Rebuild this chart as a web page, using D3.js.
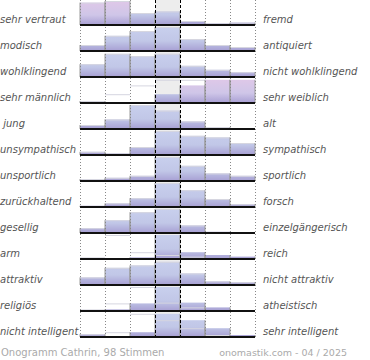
<!DOCTYPE html>
<html><head><meta charset="utf-8">
<script src="https://cdn.jsdelivr.net/npm/d3@7"></script>
<style>html,body{margin:0;padding:0;background:#fff;}svg{display:block;}</style>
</head><body>
<script>
const leftLabels = ["sehr vertraut","modisch","wohlklingend","sehr männlich"," jung","unsympathisch","unsportlich","zurückhaltend","gesellig","arm","attraktiv","religiös","nicht intelligent"];
const rightLabels = ["fremd","antiquiert","nicht wohlklingend","sehr weiblich","alt","sympathisch","sportlich","forsch","einzelgängerisch","reich","nicht attraktiv","atheistisch","sehr intelligent"];
const columns = [1,2,3,4,5,6,7];
// share of votes (%) per scale step, one array per row
const row01 = [28, 30, 15, 17, 5, 2, 3];
const row02 = [7.5, 19, 25, 30, 15, 7.5, 5];
const row03 = [16, 29, 26, 29, 14, 9, 6];
const row04 = [2.5, 0, 0, 11, 22, 29, 29];
const row05 = [5, 12, 30, 23, 9.5, 2.5, 0];
const row06 = [4, 2, 10, 30, 24, 22, 15];
const row07 = [2.5, 4, 6.5, 30, 19, 9.5, 6.5];
const row08 = [1.5, 4.5, 11, 30, 21, 10, 3.5];
const row09 = [6, 16, 26, 30, 9.5, 1.5, 0];
const row10 = [0, 0, 2, 30, 8.5, 5, 3];
const row11 = [9.5, 21.5, 24.5, 29, 14.5, 4.5, 3.5];
const row12 = [0, 2, 9.5, 30, 10.5, 4.5, 0];
const row13 = [3.5, 0, 6, 29, 21, 11, 2.5];
const rows = [row01,row02,row03,row04,row05,row06,row07,row08,row09,row10,row11,row12,row13];
const footerLeft = "Onogramm Cathrin, 98 Stimmen";
const footerRight = "onomastik.com - 04 / 2025";

const W = 370, H = 360;
const svg = d3.select("body").append("svg").attr("width", W).attr("height", H);
const defs = svg.append("defs");

const x = d3.scaleBand().domain(columns).range([80, 255]).paddingInner(0).paddingOuter(0);
const yRow = d3.scaleBand().domain(d3.range(rows.length)).range([0, 338]).paddingInner(0);
const band = 25;
const h = d3.scaleLinear().domain([0, 30]).range([0, 24]).clamp(true);

// pink tint cells (row, col)
const pinkCells = new Set(["0-0","0-1","3-4","3-5","3-6"]);

rows.forEach((vals, r) => {
  const top = yRow(r), base = top + band;
  const gb = defs.append("linearGradient").attr("id","gb"+r).attr("gradientUnits","userSpaceOnUse")
    .attr("x1",0).attr("x2",0).attr("y1",top).attr("y2",base);
  gb.append("stop").attr("offset",0).attr("stop-color","#c9d0ee");
  gb.append("stop").attr("offset",0.6).attr("stop-color","#c1c7e7");
  gb.append("stop").attr("offset",1).attr("stop-color","#a79fd3");
  const gp = defs.append("linearGradient").attr("id","gp"+r).attr("gradientUnits","userSpaceOnUse")
    .attr("x1",0).attr("x2",0).attr("y1",top).attr("y2",base);
  gp.append("stop").attr("offset",0).attr("stop-color","#e0c8e8");
  gp.append("stop").attr("offset",0.6).attr("stop-color","#cfc6e8");
  gp.append("stop").attr("offset",1).attr("stop-color","#a89fd3");
});

const g = svg.append("g");
rows.forEach((vals, r) => {
  const top = yRow(r), base = top + band;
  const rg = g.append("g");
  // middle column background
  rg.append("rect").attr("x", x(4)).attr("y", top).attr("width", x.bandwidth()).attr("height", band).attr("fill","#ededed");
  rg.selectAll("rect.bar").data(vals).join("rect").attr("class","bar")
    .attr("x",(d,i)=>x(columns[i])).attr("width",x.bandwidth())
    .attr("y",d=>base-h(d)).attr("height",d=>h(d))
    .attr("fill",(d,i)=> pinkCells.has(r+"-"+i) ? "url(#gp"+r+")" : "url(#gb"+r+")");
  // top edges
  rg.selectAll("line.top").data(vals).join("line").attr("class","top")
    .filter(d=>d>0)
    .attr("x1",(d,i)=>x(columns[i])).attr("x2",(d,i)=>x(columns[i])+x.bandwidth())
    .attr("y1",d=>base-h(d)+0.5).attr("y2",d=>base-h(d)+0.5)
    .attr("stroke","#d6d6e0").attr("stroke-width",1);
  // side edges
  vals.forEach((d,i)=>{
    if (d<=0) return;
    const x0 = x(columns[i]), x1 = x0 + x.bandwidth();
    [x0, x1].forEach(xx=>{
      rg.append("line").attr("x1",xx).attr("x2",xx).attr("y1",base-h(d)).attr("y2",base)
        .attr("stroke","#9a9a9a").attr("stroke-width",1);
    });
  });
  // labels
  rg.append("text").attr("x",0).attr("y",base-2).text(leftLabels[r])
    .attr("font-family","DejaVu Sans").attr("font-style","italic").attr("font-size",10)
    .attr("fill","#555").style("white-space","pre");
  rg.append("text").attr("x",263).attr("y",base-2).text(rightLabels[r])
    .attr("font-family","DejaVu Sans").attr("font-style","italic").attr("font-size",10)
    .attr("fill","#555");
});

// grid lines
const grid = svg.append("g");
const edges = columns.map(c=>x(c)).concat([x(columns[6])+x.bandwidth()]);
edges.forEach((xx,i)=>{
  const mid = (i===3 || i===4);
  grid.append("line").attr("x1",Math.round(xx)+0.5).attr("x2",Math.round(xx)+0.5).attr("y1",0).attr("y2",338)
    .attr("stroke", mid ? "#000" : "#888").attr("stroke-width",1)
    .attr("stroke-dasharray", mid ? "3,2" : "1,2");
});
// baselines
rows.forEach((vals,r)=>{
  const base = yRow(r)+band;
  grid.append("line").attr("x1",80).attr("x2",255).attr("y1",base).attr("y2",base)
    .attr("stroke","#111").attr("stroke-width",2);
});

svg.append("text").attr("x",1).attr("y",356).text(footerLeft)
  .attr("font-family","DejaVu Sans").attr("font-size",10).attr("fill","#aaa");
svg.append("text").attr("x",347).attr("y",356).attr("text-anchor","end").text(footerRight)
  .attr("font-family","DejaVu Sans").attr("font-size",9.5).attr("fill","#aaa");
</script>
</body></html>
